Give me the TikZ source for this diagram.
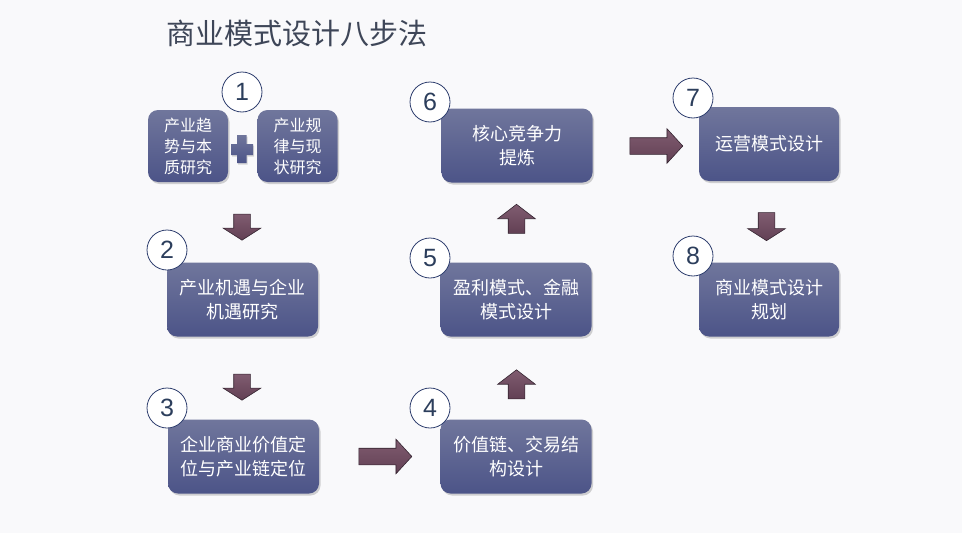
\documentclass[tikz,border=0pt]{standalone}
\usepackage{fontspec}
\setmainfont{Liberation Sans}
\newfontfamily\cjk{Noto Sans CJK SC}
\usetikzlibrary{shapes.arrows,shadows}
\definecolor{bg}{RGB}{249,249,251}
\definecolor{boxtop}{RGB}{112,118,156}
\definecolor{boxbot}{RGB}{76,84,136}
\definecolor{arrtop}{RGB}{128,92,112}
\definecolor{arrbot}{RGB}{98,64,84}
\definecolor{arrline}{RGB}{52,36,48}
\definecolor{circline}{RGB}{46,62,110}
\definecolor{numcol}{RGB}{44,62,92}
\definecolor{titlecol}{RGB}{62,70,88}
\tikzset{
  stepbox/.style={rounded corners=10pt, top color=boxtop, bottom color=boxbot,
    draw=none, text=white, align=center, font=\cjk\fontsize{18}{24}\selectfont,
    minimum width=151pt, minimum height=74pt, inner sep=2pt,
    drop shadow={opacity=0.35, shadow xshift=1.5pt, shadow yshift=-2pt}},
  smallbox/.style={stepbox, minimum width=80pt, minimum height=72pt,
    font=\cjk\fontsize{16}{21}\selectfont},
  numcirc/.style={circle, draw=circline, line width=0.8pt, fill=white,
    minimum size=40pt, inner sep=0pt, text=numcol, font=\fontsize{25}{25}\selectfont},
  blockarrow/.style={single arrow, draw=arrline, line width=0.6pt,
    top color=arrtop, bottom color=arrbot, inner xsep=0pt, inner ysep=8pt,
    single arrow head extend=9pt, single arrow tip angle=95},
}
\begin{document}
\begin{tikzpicture}[x=1pt,y=-1pt]
\fill[bg] (0,0) rectangle (962,533);
\useasboundingbox (0,0) rectangle (962,533);
\node[anchor=west, text=titlecol, font=\cjk\fontsize{29}{29}\selectfont] (title) at (163,33) {商业模式设计八步法};

% boxes
\node[smallbox] (b1a) at (188,146) {产业趋\\势与本\\质研究};
\node[smallbox] (b1b) at (297.5,146) {产业规\\律与现\\状研究};
\node[stepbox] (b2) at (242.5,299.5) {产业机遇与企业\\机遇研究};
\node[stepbox] (b3) at (243.5,456.5) {企业商业价值定\\位与产业链定位};
\node[stepbox] (b4) at (516,456.5) {价值链、交易结\\构设计};
\node[stepbox] (b5) at (516,299.5) {盈利模式、金融\\模式设计};
\node[stepbox] (b6) at (517,145.5) {核心竞争力\\提炼};
\node[stepbox, minimum width=140pt] (b7) at (769,144) {运营模式设计};
\node[stepbox, minimum width=140pt] (b8) at (769,299.5) {商业模式设计\\规划};

% plus sign
\path[top color=boxtop, bottom color=boxbot, drop shadow={opacity=0.3, shadow xshift=1pt, shadow yshift=-1.5pt}]
  (237,135) -- (246.5,135) -- (246.5,144) -- (253,144) -- (253,155) -- (246.5,155)
  -- (246.5,163) -- (237,163) -- (237,155) -- (231,155) -- (231,144) -- (237,144) -- cycle;

% numbered circles
\node[numcirc] (c1) at (242,92) {1};
\node[numcirc] (c2) at (167,250) {2};
\node[numcirc] (c3) at (167,408) {3};
\node[numcirc] (c4) at (430,408) {4};
\node[numcirc] (c5) at (430,258) {5};
\node[numcirc] (c6) at (430,102) {6};
\node[numcirc] (c7) at (693,98) {7};
\node[numcirc] (c8) at (693,256) {8};

% block arrows
\node[blockarrow, rotate=-90, minimum height=26pt, single arrow head extend=10.5pt, single arrow tip angle=115] (a1) at (242,224.5) {};
\node[blockarrow, rotate=-90, minimum height=26pt, single arrow head extend=10.5pt, single arrow tip angle=115] (a2) at (242,384.5) {};
\node[blockarrow, minimum height=53pt] (a3) at (381.5,456.5) {};
\node[blockarrow, rotate=90, minimum height=29pt, single arrow head extend=10.5pt, single arrow tip angle=105] (a4) at (516.5,387.5) {};
\node[blockarrow, rotate=90, minimum height=29pt, single arrow head extend=10.5pt, single arrow tip angle=105] (a5) at (516.5,222) {};
\node[blockarrow, minimum height=53pt] (a6) at (652.5,146) {};
\node[blockarrow, rotate=-90, minimum height=28pt, single arrow head extend=10.5pt, single arrow tip angle=115] (a7) at (766.5,224) {};
\end{tikzpicture}
\end{document}
